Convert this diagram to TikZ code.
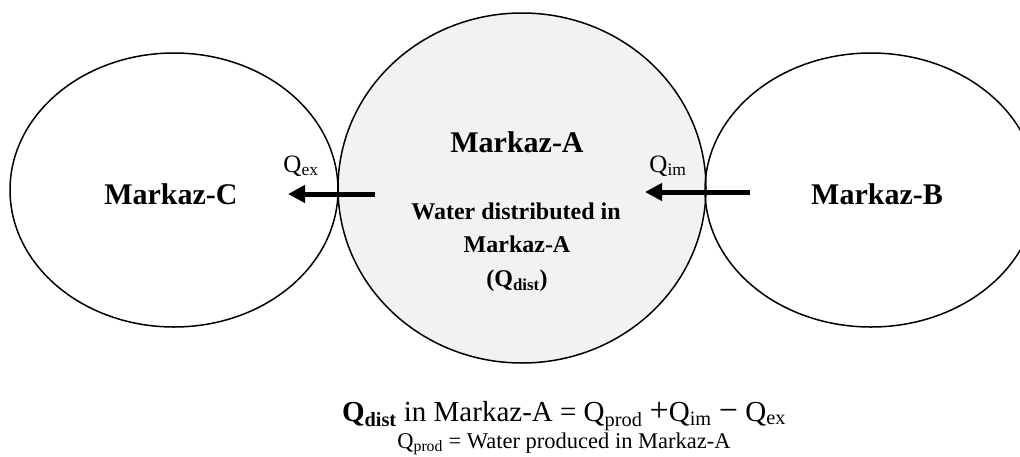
\documentclass[tikz,border=0pt]{standalone}
\usepackage{fontspec}
\setmainfont{Liberation Serif}
\usetikzlibrary{shapes.geometric,arrows.meta}
\definecolor{fillA}{HTML}{F2F2F2}
\begin{document}
\begin{tikzpicture}[x=1pt,y=-1pt,
  region/.style={ellipse,draw,line width=1.5pt,inner sep=0pt},
  flow/.style={line width=5pt,-{Triangle[length=17pt,width=17pt]}},
  bigname/.style={font=\bfseries\fontsize{30}{36}\selectfont},
  inner/.style={font=\bfseries\fontsize{24}{28}\selectfont},
  qlabel/.style={font=\fontsize{25}{28}\selectfont},
  eq/.style={font=\fontsize{29}{32}\selectfont,anchor=base},
  eqsmall/.style={font=\fontsize{22.5}{24}\selectfont,anchor=base}]
\useasboundingbox (0,0) rectangle (1020,456);
\clip (0,0) rectangle (1020,456);
\node[region,fill=fillA,minimum width=368pt,minimum height=350pt] (A) at (522,188) {};
\node[region,minimum width=328pt,minimum height=274pt] (C) at (174,190) {};
\node[region,minimum width=332pt,minimum height=274pt] (B) at (871,190) {};
\node[bigname] (tC) at (171,194) {Markaz-C};
\node[bigname] (tB) at (877,194) {Markaz-B};
\node[bigname] (tA) at (517,142) {Markaz-A};
\node[inner] (w1) at (516,211) {Water distributed in};
\node[inner] (w2) at (517,244) {Markaz-A};
\node[inner] (w3) at (517,281) {(Q\textsubscript{dist})};
\node[qlabel] (qex) at (301,166) {Q\textsubscript{ex}};
\node[qlabel] (qim) at (668,166) {Q\textsubscript{im}};
\coordinate (exS) at (375,194);
\coordinate (exE) at (288,194);
\coordinate (imS) at (750,192);
\coordinate (imE) at (645,192);
\draw[flow] (exS) -- (exE);
\draw[flow] (imS) -- (imE);
\node[eq] (eq1) at (564,421) {\textbf{Q\textsubscript{dist}} in Markaz-A = Q\textsubscript{prod} {\fontsize{34}{36}\selectfont +}Q\textsubscript{im} {\fontsize{34}{36}\selectfont −} Q\textsubscript{ex}};
\node[eqsmall] (eq2) at (564,448) {Q\textsubscript{prod} = Water produced in Markaz-A};
\end{tikzpicture}
\end{document}
